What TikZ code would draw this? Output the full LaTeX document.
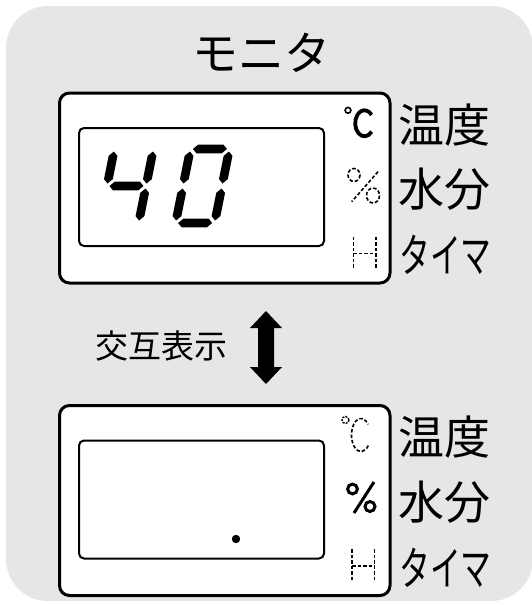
\documentclass[tikz,border=0pt]{standalone}
\usepackage{graphicx}
\usepackage{fontspec}
\newfontfamily\jp{Noto Sans CJK JP}
\definecolor{bggray}{RGB}{230,230,230}
\def\segt{4.4}
\newcommand\SegH[3]{\fill (#1,#3) -- ({#1+\segt},{#3-\segt}) -- ({#2-\segt},{#3-\segt}) -- (#2,#3) -- ({#2-\segt},{#3+\segt}) -- ({#1+\segt},{#3+\segt}) -- cycle;}
\newcommand\SegV[3]{\fill (#1,#2) -- ({#1+\segt},{#2+\segt}) -- ({#1+\segt},{#3-\segt}) -- (#1,#3) -- ({#1-\segt},{#3-\segt}) -- ({#1-\segt},{#2+\segt}) -- cycle;}
\begin{document}
\begin{tikzpicture}[x=1pt,y=-1pt,
  outerbox/.style={draw, line width=3pt, fill=white, rounded corners=10pt, inner sep=0pt},
  innerbox/.style={draw, line width=2pt, fill=white, rounded corners=5pt, inner sep=0pt},
  lbl/.style={font=\jp\fontsize{46}{46}\selectfont, anchor=west, inner sep=0pt},
  symdash/.style={line width=1.6pt, dash pattern=on 3.5pt off 2pt}]
\useasboundingbox (0,0) rectangle (531,605);
\fill[white] (0,0) rectangle (531,605);
\fill[bggray, rounded corners=42pt] (6,6) rectangle (533,601);

\node[font=\jp\fontsize{46}{46}\selectfont, inner sep=0pt] (title) at (261,53) {モニタ};

% top display
\node[outerbox, minimum width=330.5pt, minimum height=190pt] (out1) at (224.75,188) {};
\node[innerbox, minimum width=245pt, minimum height=118pt] (in1) at (201.5,187) {};
\begin{scope}[shift={(126.5,186)}, xslant=0.2]
  \SegV{-19.5}{-34.5}{-2.5}
  \SegV{19.5}{-34.5}{-2.5}
  \SegH{-17}{17}{0}
  \SegV{19.5}{2.5}{34.5}
\end{scope}
\begin{scope}[shift={(202.5,186)}, xslant=0.2]
  \SegH{-17}{17}{-37}
  \SegH{-17}{17}{37}
  \SegV{-19.5}{-34.5}{-2.5}
  \SegV{19.5}{-34.5}{-2.5}
  \SegV{-19.5}{2.5}{34.5}
  \SegV{19.5}{2.5}{34.5}
\end{scope}
% solid degree C
\draw[line width=1.6pt] (348,110.3) circle[radius=2.9];
\draw[line width=3.8pt] ([shift={(364.5,123.3)}]40:9.3 and 13) arc[start angle=40, end angle=320, x radius=9.3, y radius=13];
% dashed percent
\draw[symdash] (354,175) ellipse[x radius=6, y radius=6.5];
\draw[symdash] (373,195.5) ellipse[x radius=6.5, y radius=7.5];
\draw[symdash] (378,171.7) -- (351.7,201.7);
% dashed H
\draw[symdash] (353.3,236.7) -- (353.3,268.3);
\draw[symdash] (375.7,236.7) -- (375.7,268.3);
\draw[symdash] (353.3,253.3) -- (375.7,253.3);
\node[lbl] (temp1) at (398,125) {温度};
\node[lbl] (water1) at (398,189.5) {水分};
\node[lbl] (timer1) at (399,255) {\scalebox{0.67}[1]{タイマ}};

% alternating label and arrow
\node[font=\jp\fontsize{33}{33}\selectfont, inner sep=0pt] (alt) at (161.5,346.5) {交互表示};
\fill (266,311) -- (250,328) -- (258,328) -- (258,367) -- (250,367) -- (266,384) -- (282,367) -- (274,367) -- (274,328) -- (282,328) -- cycle;

% bottom display
\node[outerbox, minimum width=330.5pt, minimum height=190pt] (out2) at (224.75,500.5) {};
\node[innerbox, minimum width=245pt, minimum height=118pt] (in2) at (201.5,499.5) {};
\fill (236,539) circle[radius=4.2];
% dashed degree C
\draw[line width=1.4pt, dash pattern=on 2pt off 1.2pt] (345.5,420) circle[radius=3.5];
\draw[symdash] ([shift={(361,435)}]40:9.5 and 16.5) arc[start angle=40, end angle=320, x radius=9.5, y radius=16.5];
% solid percent
\draw[line width=3pt] (352.5,489) circle[radius=4.9];
\draw[line width=3pt] (370,506.5) circle[radius=5];
\draw[line width=3pt] (374,482) -- (354,513);
% dashed H
\draw[symdash] (352,549.2) -- (352,580.8);
\draw[symdash] (374.5,549.2) -- (374.5,580.8);
\draw[symdash] (352,565.8) -- (374.5,565.8);
\node[lbl] (temp2) at (398,437.5) {温度};
\node[lbl] (water2) at (398,502) {水分};
\node[lbl] (timer2) at (399,567.5) {\scalebox{0.67}[1]{タイマ}};
\end{tikzpicture}
\end{document}
